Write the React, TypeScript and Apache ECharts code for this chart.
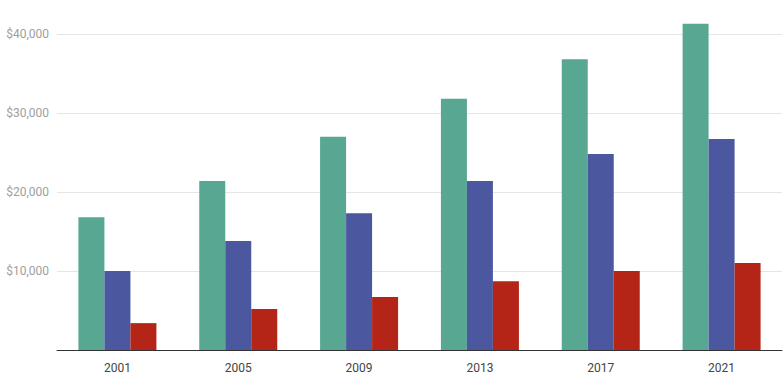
import React, { useEffect, useRef } from "react";
import * as echarts from "echarts";

const years = ["2001", "2005", "2009", "2013", "2017", "2021"];
const seriesA = [16800, 21400, 27000, 31800, 36800, 41300];
const seriesB = [10000, 13800, 17300, 21400, 24800, 26700];
const seriesC = [3400, 5200, 6700, 8700, 10000, 11000];
const yMax = 44300;

export default function App() {
  const ref = useRef<HTMLDivElement>(null);
  useEffect(() => {
    if (!ref.current) return;
    const chart = echarts.init(ref.current, null, { renderer: "svg" });
    const fmt = (v: number) => "$" + v.toLocaleString("en-US");
    chart.setOption({
      animation: false,
      grid: { left: 57, right: 2, top: 0, bottom: 39, containLabel: false },
      xAxis: {
        type: "category",
        data: years,
        axisTick: { show: false },
        axisLine: { lineStyle: { color: "#333", width: 1 } },
        axisLabel: { color: "#444", fontFamily: "Roboto", fontSize: 12, margin: 12 },
      },
      yAxis: {
        type: "value",
        min: 0,
        max: yMax,
        interval: 10000,
        axisLine: { show: false },
        axisTick: { show: false },
        splitLine: { showMaxLine: false, showMinLine: false, lineStyle: { color: "#e5e5e5", width: 1 } },
        axisLabel: {
          color: "#9e9e9e",
          fontFamily: "Roboto",
          fontSize: 12,
          margin: 8,
          showMaxLabel: false,
          formatter: (v: number) => (v === 0 ? "" : fmt(v)),
        },
      },
      series: [
        { type: "bar", data: seriesA, barWidth: 26, barGap: "0%", itemStyle: { color: "#57a792" } },
        { type: "bar", data: seriesB, barWidth: 26, barGap: "0%", itemStyle: { color: "#4b589f" } },
        { type: "bar", data: seriesC, barWidth: 26, barGap: "0%", itemStyle: { color: "#b42417" } },
      ],
    });
    return () => chart.dispose();
  }, []);
  return (
    <div
      ref={ref}
      style={{ position: "absolute", left: 0, top: 0, width: 784, height: 389, background: "#fff" }}
    />
  );
}
